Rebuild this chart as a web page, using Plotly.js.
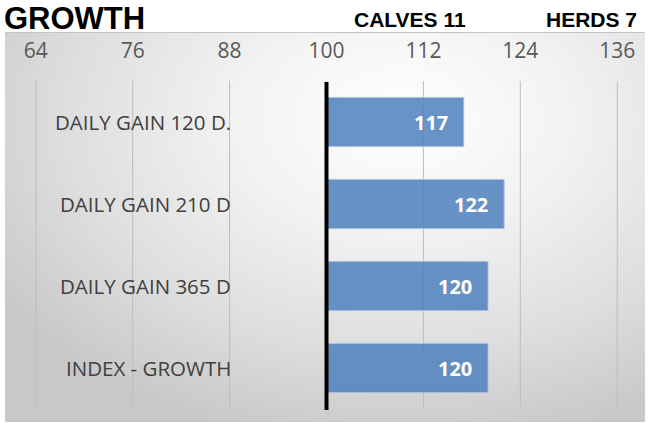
<!DOCTYPE html>
<html>
<head>
<meta charset="utf-8">
<script src="https://cdn.plot.ly/plotly-3.0.1.min.js"></script>
<style>
  html, body { margin: 0; padding: 0; background: #ffffff; }
  #bg {
    position: absolute; left: 5px; top: 32px; width: 640px; height: 389px;
    border-top: 1px solid #c4c4c4;
    background: radial-gradient(ellipse 75% 85% at 62% 22%, #ffffff 0%, #f2f2f2 35%, #dedede 70%, #c8c8c8 100%);
  }
  #chart { position: absolute; left: 0; top: 0; width: 649px; height: 423px; }
</style>
</head>
<body>
<div id="bg"></div>
<div id="chart"></div>
<script>
const categories = ["DAILY GAIN 120 D.", "DAILY GAIN 210 D", "DAILY GAIN 365 D", "INDEX - GROWTH"];
const values = [117, 122, 120, 120];
const baseValue = 100;
const tickValues = [64, 76, 88, 100, 112, 124, 136];
const calvesText = "CALVES 11";
const herdsText = "HERDS 7";
const titleText = "GROWTH";

const W = 649, H = 423;
const M = { l: 35, r: 31, t: 81, b: 14 };
const pw = W - M.l - M.r, ph = H - M.t - M.b;
const px = x => (x - M.l) / pw;
const py = y => (H - M.b - y) / ph;

const trace = {
  type: 'bar',
  orientation: 'h',
  y: categories,
  x: values.map(v => v - baseValue),
  base: baseValue,
  width: 0.6,
  marker: {
    color: 'rgba(79,129,189,0.86)',
    line: { color: 'rgba(170,195,228,0.9)', width: 1 }
  },
  hoverinfo: 'skip'
};

const annotations = [];
categories.forEach((c, i) => {
  annotations.push({
    x: 88, y: c, xref: 'x', yref: 'y', xanchor: 'right', yanchor: 'middle',
    xshift: 3, showarrow: false, text: c,
    font: { family: 'Open Sans, sans-serif', size: 20.5, color: '#404040' }
  });
  annotations.push({
    x: values[i], y: c, xref: 'x', yref: 'y', xanchor: 'right', yanchor: 'middle',
    xshift: -14, showarrow: false, text: String(values[i]),
    font: { family: 'Open Sans, sans-serif', size: 20, color: '#ffffff', weight: 'bold' }
  });
});
annotations.push({
  x: px(352), y: py(19), xref: 'paper', yref: 'paper', xanchor: 'left', yanchor: 'middle',
  showarrow: false, text: '<b>' + calvesText + '</b>',
  font: { family: 'Liberation Sans, Arial, sans-serif', size: 21, color: '#000000' }
});
annotations.push({
  x: px(639), y: py(19), xref: 'paper', yref: 'paper', xanchor: 'right', yanchor: 'middle',
  showarrow: false, text: '<b>' + herdsText + '</b>',
  font: { family: 'Liberation Sans, Arial, sans-serif', size: 21, color: '#000000' }
});

const shapes = tickValues.map(t => ({
  type: 'line', layer: 'below', xref: 'x', yref: 'paper', x0: t, x1: t, y0: 0, y1: 1,
  line: { color: '#bdbdbd', width: 1 }
}));
shapes.push({
  type: 'line', xref: 'x', yref: 'paper', x0: baseValue, x1: baseValue, y0: -0.003, y1: 0.997,
  line: { color: '#000000', width: 4 }
});

const layout = {
  width: W, height: H,
  margin: M,
  paper_bgcolor: 'rgba(0,0,0,0)',
  plot_bgcolor: 'rgba(0,0,0,0)',
  showlegend: false,
  title: {
    text: '<b>' + titleText + '</b>',
    xref: 'container', yref: 'container',
    x: 4 / W, y: 1 - 18 / H, xanchor: 'left', yanchor: 'middle',
    font: { family: 'Liberation Sans, Arial, sans-serif', size: 31, color: '#000000' }
  },
  xaxis: {
    range: [63.9, 136.1],
    side: 'top',
    tickmode: 'array',
    tickvals: tickValues,
    ticktext: tickValues.map(String),
    ticks: 'outside', ticklen: 14, tickcolor: 'rgba(0,0,0,0)',
    showgrid: false,
    zeroline: false, showline: false,
    tickfont: { family: 'Open Sans, sans-serif', size: 21, color: '#595959' },
    fixedrange: true
  },
  yaxis: {
    type: 'category',
    categoryorder: 'array', categoryarray: categories,
    range: [categories.length - 0.5, -0.5],
    showticklabels: false, showgrid: false, zeroline: false, showline: false,
    ticks: '', fixedrange: true
  },
  shapes: shapes,
  annotations: annotations,
  bargap: 0.4
};

Plotly.newPlot('chart', [trace], layout, { displayModeBar: false, staticPlot: true });
</script>
</body>
</html>
